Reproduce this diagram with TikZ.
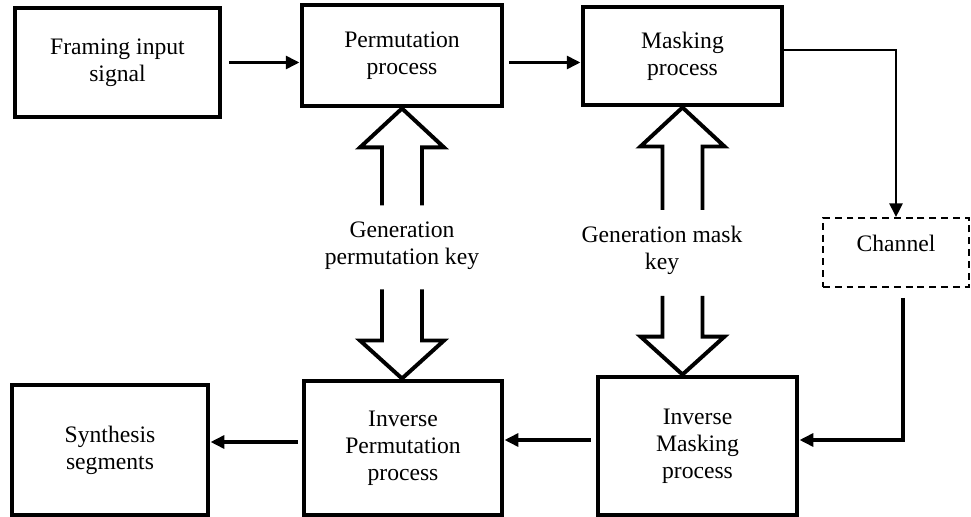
\documentclass[tikz,border=0pt]{standalone}
\usepackage{fontspec}
\setmainfont{Liberation Serif}
\usepackage{tikz}
\usetikzlibrary{positioning,calc,arrows.meta}

% hollow key arrow: tail, tip, head length (+ up / - down)
\newcommand{\keyarrow}[3]{%
\draw[keyline] ($(#1)+(-20,0)$) -- ($(#2)+(-20,#3)$) -- ($(#2)+(-42,#3)$) -- (#2)
  -- ($(#2)+(42,#3)$) -- ($(#2)+(20,#3)$) -- ($(#1)+(20,0)$);}

\begin{document}
\begin{tikzpicture}[x=0.508pt,y=-0.508pt]
\useasboundingbox (0,0) rectangle (971,517);
\tikzstyle{every node}=[font=\fontsize{12}{13.8}\selectfont, align=center, inner sep=0pt]
\tikzstyle{block}=[draw, line width=2.5pt]
\tikzstyle{chanbox}=[draw, line width=0.8pt, dash pattern=on 3.5pt off 2.5pt]
\tikzstyle{arr}=[line width=2pt, -{Triangle[length=7pt,width=6.5pt]}]
\tikzstyle{thinarr}=[line width=1.5pt, -{Triangle[length=7pt,width=6.5pt]}]
\tikzstyle{keyline}=[line width=2pt, line join=miter]

\draw node[block, minimum width=104.1pt, minimum height=55.4pt] (frame) at (117.5,62.5) {Framing input\\signal};
\draw node[block, minimum width=101.6pt, minimum height=51.3pt] (perm) at (402,55.5) {Permutation\\process};
\draw node[block, minimum width=101.1pt, minimum height=49.8pt] (mask) at (682.5,56) {Masking\\process};
\draw node[chanbox, minimum width=74.2pt, minimum height=35.1pt, text depth=9.6pt] (chan) at (896,252.5) {Channel};
\draw node[block, minimum width=101.1pt, minimum height=70.1pt] (invmask) at (697.5,446) {Inverse\\Masking\\process};
\draw node[block, minimum width=100.6pt, minimum height=68.1pt] (invperm) at (403,448) {Inverse\\Permutation\\process};
\draw node[block, minimum width=99.6pt, minimum height=66pt] (synth) at (110,450) {Synthesis\\segments};

\node (permkey) at ($(perm.south)+(0,137)$) {Generation\\permutation key};
\node (maskkey) at (662,250.5) {Generation mask\\key};

\draw[arr, shorten <=3.5pt] (frame.east) -- (frame.east -| perm.west);
\draw[arr, shorten <=2.5pt] (perm.east |- frame.east) -- (mask.west |- frame.east);
\draw[thinarr] ($(mask.east)+(0,-6)$) -| (chan.north);
\draw[arr] ($(chan.south)+(7,10)$) |- ($(invmask.east)+(0,-6)$);
\draw[arr, shorten <=2.5pt] ($(invmask.west)+(0,-6)$) -- ($(invperm.east)+(0,-8)$);
\draw[arr, shorten <=2pt] ($(invperm.west)+(0,-6)$) -- ($(synth.east)+(0,-8)$);

\coordinate (pkup) at ($(permkey)+(0,-40)$);
\coordinate (pkdown) at ($(permkey)+(0,44)$);
\coordinate (mkup) at ($(mask.south |- maskkey)+(0,-40.5)$);
\coordinate (mkdown) at ($(mask.south |- maskkey)+(0,45.5)$);
\keyarrow{pkup}{perm.south}{39}
\keyarrow{pkdown}{perm.south |- invperm.north}{-38}
\keyarrow{mkup}{mask.south}{39}
\keyarrow{mkdown}{mask.south |- invmask.north}{-38}
\end{tikzpicture}
\end{document}
